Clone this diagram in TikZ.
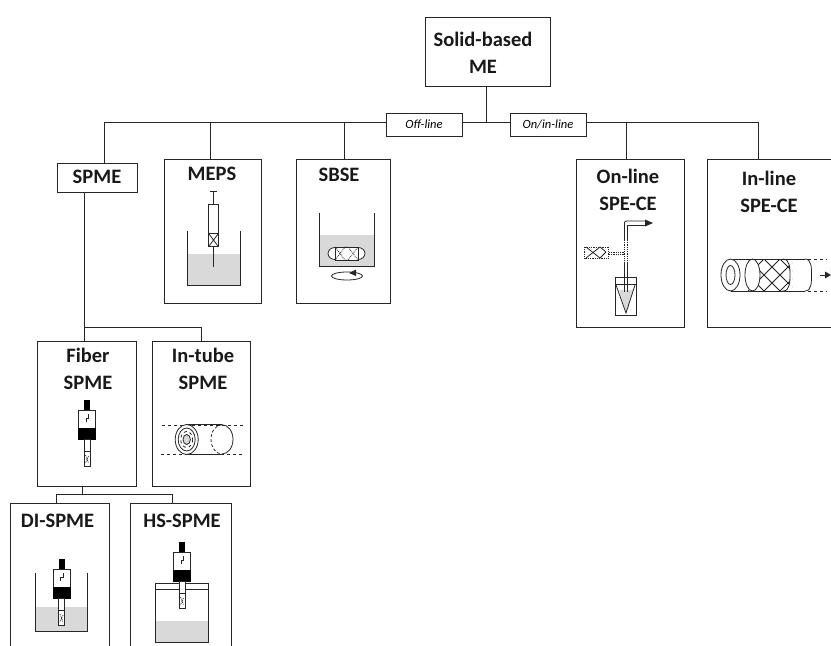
\documentclass[tikz,border=0pt]{standalone}
\usepackage{fontspec}
\setmainfont{Carlito}
\usetikzlibrary{arrows.meta}
\definecolor{liq}{gray}{0.85}
\definecolor{ln}{gray}{0.15}
\tikzset{
  x=1pt,y=-1pt,
  boxn/.style={draw=ln,line width=1pt,fill=white,anchor=north west,inner sep=0pt},
  ttl/.style={font=\fontsize{20.5}{26.5}\selectfont\bfseries,align=center,inner sep=0pt,text=black!90},
  tag/.style={draw=ln,line width=0.9pt,fill=white,minimum width=76pt,minimum height=23pt,inner sep=0pt,font=\fontsize{12.5}{14}\selectfont\itshape},
  conn/.style={draw=ln,line width=1pt},
  fine/.style={draw=ln,line width=0.8pt},
  fiberdev/.pic={
    \fill[black] (-3,0) rectangle (3,11);
    \draw[fine,fill=white] (-8.5,10.5) rectangle (8.5,28);
    \fill[black] (-9,28) rectangle (9,39.5);
    \draw[fine] (-1,22) -- (-1,18) -- (1.5,18) -- (1.5,14);
    \draw[fine,fill=white] (-3,39.5) rectangle (3,51);
    \draw[fine,fill=white] (-3,51) rectangle (3,66);
    \draw[fine,densely dotted] (-1.5,55) -- (1.5,63) (1.5,56) -- (-1.5,63);
  }
}
\newcommand{\boxat}[5]{\node[boxn,minimum width=#4pt,minimum height=#5pt] (#1) at (#2,#3) {};}
\begin{document}
\begin{tikzpicture}
\useasboundingbox (0,0) rectangle (831,646);
% junction points
\coordinate (hub) at (486,122);
\coordinate (hl) at (104,122);
\coordinate (hm) at (210,122);
\coordinate (hb) at (344,122);
\coordinate (hn) at (626,122);
\coordinate (hi) at (758,122);
\coordinate (sb) at (84,327);
\coordinate (sr) at (201,327);
\coordinate (ft) at (82.7,494);
\coordinate (fl) at (56.5,494);
\coordinate (fr) at (172,494);
% boxes
\boxat{root}{424.5}{17}{125}{68.5}
\boxat{spme}{56.5}{162.5}{80.5}{29}
\boxat{meps}{164}{159}{97}{144}
\boxat{sbse}{296}{159}{94}{144}
\boxat{online}{576}{159}{108}{168}
\boxat{inline}{707}{159}{124}{168}
\boxat{fiber}{37}{341}{99}{145}
\boxat{intube}{152}{341}{98}{145}
\boxat{di}{10}{503}{99}{144}
\boxat{hs}{129.5}{503}{101.5}{144}
\draw[conn] (hl) -- (hi);
\draw[conn] (root.south -| hub) -- (hub);
\draw[conn] (hl) -- (hl |- spme.north);
\draw[conn] (hm) -- (hm |- meps.north);
\draw[conn] (hb) -- (hb |- sbse.north);
\draw[conn] (hn) -- (hn |- online.north);
\draw[conn] (hi) -- (hi |- inline.north);
\draw[conn] (sb |- spme.south) -- (sb);
\draw[conn] (sb) -- (sr);
\draw[conn] (sb) -- (sb |- fiber.north);
\draw[conn] (sr) -- (sr |- intube.north);
\draw[conn] (ft |- fiber.south) -- (ft);
\draw[conn] (fl) -- (fr);
\draw[conn] (fl) -- (fl |- di.north);
\draw[conn] (fr) -- (fr |- hs.north);
% tags
\node[tag] (off) at (424,124.5) {Off-line};
\node[tag] (on) at (548,124.5) {On/in-line};
% titles
\node[ttl] (troot) at (483,53) {Solid-based\\ME};
\node[ttl] (tspme) at (97,177) {SPME};
\node[ttl] (tmeps) at (212,174) {MEPS};
\node[ttl] (tsbse) at (339,174.5) {SBSE};
\node[ttl] (tonline) at (628,190) {On-line\\SPE-CE};
\node[ttl] (tinline) at (769,192) {In-line\\SPE-CE};
\node[ttl] (tfiber) at (88,369) {Fiber\\SPME};
\node[ttl] (tintube) at (203,369) {In-tube\\SPME};
\node[ttl] (tdi) at (57.5,520.5) {DI-SPME};
\node[ttl] (ths) at (182,520.5) {HS-SPME};
% MEPS icon
\fill[liq] (187,254) rectangle (240,285);
\draw[fine] (187,231) -- (187,285) -- (240,285) -- (240,231);
\draw[fine] (209.5,191.5) -- (217,191.5) (213.5,191.5) -- (213.5,204);
\draw[fine,fill=white] (208.5,204) rectangle (218.5,246);
\draw[fine] (208.5,233.5) -- (218.5,233.5);
\draw[fine] (209,234) -- (218,246) (218,234) -- (209,246);
\draw[fine] (213.5,246) -- (213.5,267);
% SBSE icon
\fill[liq] (319,235) rectangle (374,266);
\draw[fine] (319,213) -- (319,266) -- (374,266) -- (374,213);
\draw[fine,fill=white] (335,253.5) ellipse (7 and 6);
\draw[fine,fill=white] (358,253.5) ellipse (7 and 6);
\draw[fine,fill=white] (335,247) rectangle (358,260);
\draw[fine,densely dotted] (335,247) -- (345,260) -- (348,260) -- (358,247) (335,260) -- (345,247) -- (348,247) -- (358,260);
\draw[fine] (347,276) ellipse (15.5 and 4);
\fill[ln] (349,273) -- (356,269.5) -- (356,276) -- cycle;
% On-line icon
\draw[fine,densely dotted,fill=white] (584.5,247) rectangle (608.5,258);
\draw[fine] (586,247) -- (600,258) (600,247) -- (606,252);
\draw[fine] (586,258) -- (600,247) (600,258) -- (606,252);
\draw[fine,densely dotted] (609,252) -- (625,252) (609,254.5) -- (625,254.5);
\draw[fine] (624.5,240) -- (624.5,222.5) to[out=90,in=180] (627,221) -- (645,221);
\draw[fine] (627,240) -- (627,225) -- (645,225);
\draw[fine,densely dotted] (624.5,240) -- (624.5,262) (627,240) -- (627,262);
\draw[fine] (624.5,262) -- (624.5,277) (627,262) -- (627,277);
\fill[ln] (645,219.5) -- (653,223) -- (645,226.5) -- cycle;
\draw[fine] (615,277.5) rectangle (636,315);
\draw[fine] (615,284.5) -- (636,284.5);
\fill[liq] (619,290) -- (633,290) -- (626,313) -- cycle;
\draw[fine] (616,285) -- (626,313) -- (635,285);
\draw[fine] (624.5,277) -- (624.5,292) (627,277) -- (627,292);
% In-line icon
\begin{scope}
\clip (748,259) rectangle (792,291);
\foreach \d in {-48,-32,...,48} {
  \draw[fine] (748+\d,259) -- (780+\d,291);
  \draw[fine] (780+\d,259) -- (748+\d,291);
}
\end{scope}
\fill[white] (783,258) -- (792,258) -- (792,292) -- (783,292) -- (783,291) to[out=0,in=-90] (790,275) to[out=90,in=0] (783,259) -- cycle;
\draw[fine,fill=white] (752.5,275) ellipse (7.5 and 16);
\draw[fine] (730.5,259) -- (805,259) (730.5,291) -- (805,291);
\draw[fine,fill=white] (730.5,275) ellipse (9.5 and 16);
\draw[fine] (730.5,275) ellipse (4.5 and 9.5);
\draw[fine] (783,259) to[out=0,in=90] (790,275) to[out=-90,in=0] (783,291);
\draw[fine] (805,259) to[out=0,in=90] (811.5,275) to[out=-90,in=0] (805,291);
\draw[fine,dashed] (808,259) -- (827,259) (808,291) -- (827,291);
\draw[fine] (820,275) -- (826,275);
\fill[ln] (825,271.5) -- (831,275) -- (825,278.5) -- cycle;
% In-tube icon
\draw[fine,dashed] (162,425) -- (245,425) (161,454) -- (244,454);
\draw[fine] (187,424.7) -- (222,424.7) (187,454) -- (222,454);
\draw[fine,fill=white] (186.7,439.5) ellipse (11.5 and 15);
\draw[fine] (186.7,439.5) ellipse (8.5 and 11.5);
\draw[fine,dashed] (186.7,439.5) ellipse (6 and 8);
\draw[fine,fill=liq] (186.7,439.5) ellipse (3.7 and 5);
\draw[fine] (222,424.7) arc[start angle=-90,end angle=90,x radius=11,y radius=14.65];
\draw[fine,densely dashed] (222,424.7) arc[start angle=-90,end angle=-270,x radius=11,y radius=14.65];
% Fiber icons
\pic at (87,400) {fiberdev};
% DI icon
\fill[liq] (35,607) rectangle (87,631);
\draw[fine] (35,573) -- (35,631.5) -- (87,631.5) -- (87,573);
\pic at (61.5,559) {fiberdev};
% HS icon
\draw[fine] (155,589) rectangle (208,642);
\fill[liq] (155.5,621) rectangle (207.5,641.5);
\draw[fine,fill=white] (155,583) rectangle (208,589);
\pic at (182,542) {fiberdev};
\end{tikzpicture}
\end{document}
